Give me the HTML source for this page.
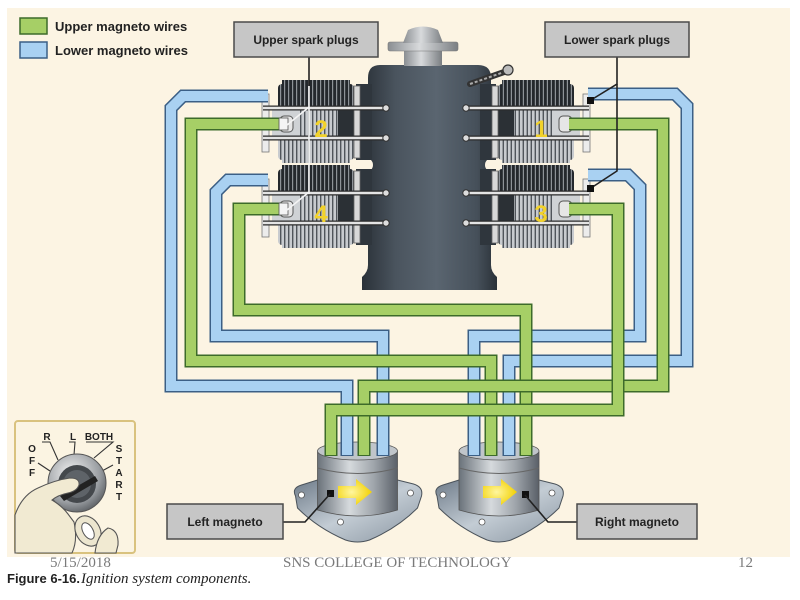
<!DOCTYPE html>
<html><head><meta charset="utf-8"><style>
html,body{margin:0;padding:0;background:#fff;}
svg{display:block;}
</style></head><body>
<svg width="800" height="600" viewBox="0 0 800 600" xmlns="http://www.w3.org/2000/svg">
<defs>
  <pattern id="finL" width="4" height="10" patternUnits="userSpaceOnUse"><rect width="4" height="10" fill="#c8cbcf"/><rect width="1.4" height="10" fill="#50555b"/></pattern>
  <pattern id="finD" width="4" height="10" patternUnits="userSpaceOnUse"><rect width="4" height="10" fill="#24282d"/><rect width="1.2" height="10" fill="#8d9298"/></pattern>
  <linearGradient id="crank" x1="0" x2="1" y1="0" y2="0">
    <stop offset="0" stop-color="#2a3138"/><stop offset="0.25" stop-color="#4a545e"/>
    <stop offset="0.55" stop-color="#5a6570"/><stop offset="0.85" stop-color="#46505a"/>
    <stop offset="1" stop-color="#2a3138"/>
  </linearGradient>
  <linearGradient id="hub" x1="0" x2="1"><stop offset="0" stop-color="#8a8e92"/><stop offset="0.45" stop-color="#d8dadc"/><stop offset="1" stop-color="#7a7e82"/></linearGradient>
  <linearGradient id="mag" x1="0" x2="1"><stop offset="0" stop-color="#6a727a"/><stop offset="0.4" stop-color="#d6dadd"/><stop offset="0.7" stop-color="#a0a6ac"/><stop offset="1" stop-color="#5a6068"/></linearGradient>
  <linearGradient id="base" x1="0" x2="1" y1="0" y2="1"><stop offset="0" stop-color="#6f7c8a"/><stop offset="0.5" stop-color="#c3ccd4"/><stop offset="1" stop-color="#8995a1"/></linearGradient>
  <radialGradient id="knob" cx="0.4" cy="0.35" r="0.7"><stop offset="0" stop-color="#f4f4f4"/><stop offset="0.7" stop-color="#9a9ea2"/><stop offset="1" stop-color="#5a5e62"/></radialGradient>
  <radialGradient id="arrowG" cx="0.4" cy="0.5" r="0.6"><stop offset="0" stop-color="#fff6a0"/><stop offset="1" stop-color="#f2d000"/></radialGradient>
  <g id="cyl">
    <rect x="356" y="2" width="16" height="76" fill="#2f363d"/>
    <rect x="282" y="-2" width="68" height="6" fill="url(#finD)"/>
    <rect x="278" y="2" width="76" height="26" rx="4" fill="url(#finD)"/>
    <rect x="278" y="52" width="76" height="26" rx="4" fill="url(#finL)"/>
    <rect x="282" y="76" width="68" height="5" fill="url(#finL)"/>
    <rect x="272" y="26" width="30" height="30" fill="#cfd2d5"/>
    <rect x="300" y="26" width="40" height="30" fill="url(#finL)"/>
    <rect x="338" y="26" width="18" height="30" fill="#2b3035"/>
    <rect x="262" y="12" width="7" height="58" fill="#ececec" stroke="#777" stroke-width="0.8"/>
    <rect x="354" y="4" width="6" height="72" fill="#d8d8d8" stroke="#666" stroke-width="0.8"/>
    <line x1="263" y1="26" x2="386" y2="26" stroke="#2a2a2a" stroke-width="5"/>
    <line x1="263" y1="26" x2="386" y2="26" stroke="#e4e4e4" stroke-width="2.6"/>
    <circle cx="386" cy="26" r="3.2" fill="#ddd" stroke="#333" stroke-width="1"/>
    <line x1="263" y1="56" x2="386" y2="56" stroke="#2a2a2a" stroke-width="5"/>
    <line x1="263" y1="56" x2="386" y2="56" stroke="#e4e4e4" stroke-width="2.6"/>
    <circle cx="386" cy="56" r="3.2" fill="#ddd" stroke="#333" stroke-width="1"/>
    <rect x="280" y="34" width="13" height="16" rx="4" fill="#e6e6e6" stroke="#555" stroke-width="1"/>
  </g>
</defs>

<!-- background -->
<rect x="7" y="8" width="783" height="549" fill="#fcf4e3"/>

<!-- legend -->
<rect x="20" y="18" width="27" height="16" fill="#a6cf66" stroke="#3d6b2a" stroke-width="1.5"/>
<rect x="20" y="42" width="27" height="16" fill="#a9d1f2" stroke="#3b5f86" stroke-width="1.5"/>
<g font-family="Liberation Sans, Arial, sans-serif" font-weight="bold" font-size="13" fill="#222">
  <text x="55" y="31">Upper magneto wires</text>
  <text x="55" y="55">Lower magneto wires</text>
</g>

<!-- engine crankcase -->
<path d="M380,65 Q368,65 368,78 L368,265 Q368,272 362,277 L362,290 L497,290 L497,277 Q491,272 491,265 L491,78 Q491,65 478,65 Z" fill="url(#crank)"/>
<circle cx="366" cy="165" r="7" fill="#fcf4e3"/>
<circle cx="492" cy="165" r="7" fill="#fcf4e3"/>
<!-- hub -->
<rect x="404" y="50" width="38" height="16" fill="url(#hub)"/>
<rect x="388" y="42" width="70" height="9" rx="2" fill="url(#hub)" stroke="#777" stroke-width="0.6"/>
<path d="M403,43 L408,30 Q423,23 438,30 L443,43 Z" fill="url(#hub)"/>
<!-- dipstick -->
<line x1="470" y1="84" x2="507" y2="71" stroke="#333" stroke-width="6" stroke-linecap="round"/>
<line x1="470" y1="84" x2="507" y2="71" stroke="#aaa" stroke-width="2" stroke-dasharray="3 2"/>
<circle cx="508" cy="70" r="5" fill="#bbb" stroke="#333" stroke-width="1.2"/>

<!-- cylinders -->
<use href="#cyl" x="0" y="82"/>
<use href="#cyl" x="0" y="167"/>
<use href="#cyl" transform="translate(852,82) scale(-1,1)"/>
<use href="#cyl" transform="translate(852,167) scale(-1,1)"/>
<g font-family="Liberation Sans, Arial, sans-serif" font-weight="bold" font-size="24" fill="#f2d22a" text-anchor="middle">
  <text x="321" y="137">2</text>
  <text x="321" y="222">4</text>
  <text x="541" y="137">1</text>
  <text x="541" y="222">3</text>
</g>

<!-- magnetos -->
<g transform="translate(357.5,0)">
  <path d="M-62,496 Q-66,488 -56,485 L-40,480 L40,480 L56,484 Q66,487 64,496 L60,508 Q40,528 12,540 Q0,544 -12,540 Q-40,528 -60,508 Z" fill="url(#base)" stroke="#4a525a" stroke-width="1"/>
  <circle cx="-56" cy="495" r="3" fill="#fff" stroke="#555" stroke-width="0.8"/>
  <circle cx="53" cy="493" r="3" fill="#fff" stroke="#555" stroke-width="0.8"/>
  <circle cx="-17" cy="522" r="3" fill="#fff" stroke="#555" stroke-width="0.8"/>
  <path d="M-40,452 L-40,510 Q0,522 40,510 L40,452 Z" fill="url(#mag)" stroke="#555" stroke-width="0.8"/>
  <path d="M-40,468 Q0,479 40,468" fill="none" stroke="#666" stroke-width="1"/>
  <ellipse cx="0" cy="451" rx="40" ry="9" fill="#c0c5ca" stroke="#555" stroke-width="0.8"/>
</g>
<g transform="translate(499,0)">
  <path d="M-62,496 Q-66,488 -56,485 L-40,480 L40,480 L56,484 Q66,487 64,496 L60,508 Q40,528 12,540 Q0,544 -12,540 Q-40,528 -60,508 Z" fill="url(#base)" stroke="#4a525a" stroke-width="1"/>
  <circle cx="-56" cy="495" r="3" fill="#fff" stroke="#555" stroke-width="0.8"/>
  <circle cx="53" cy="493" r="3" fill="#fff" stroke="#555" stroke-width="0.8"/>
  <circle cx="-17" cy="522" r="3" fill="#fff" stroke="#555" stroke-width="0.8"/>
  <path d="M-40,452 L-40,510 Q0,522 40,510 L40,452 Z" fill="url(#mag)" stroke="#555" stroke-width="0.8"/>
  <path d="M-40,468 Q0,479 40,468" fill="none" stroke="#666" stroke-width="1"/>
  <ellipse cx="0" cy="451" rx="40" ry="9" fill="#c0c5ca" stroke="#555" stroke-width="0.8"/>
</g>
<polygon points="338,486 356,486 356,479 372,492 356,505 356,498 338,498" fill="url(#arrowG)"/>
<polygon points="483,486 501,486 501,479 517,492 501,505 501,498 483,498" fill="url(#arrowG)"/>
<rect x="327" y="490" width="7" height="7" fill="#111"/>
<rect x="522" y="491" width="7" height="7" fill="#111"/>

<!-- wires: blue -->
<g fill="none" stroke-linejoin="miter">
  <g stroke="#3b5f86" stroke-width="13">
    <path d="M268,96 L183,96 L171,108 L171,386 L347,386 L347,456"/>
    <path d="M268,180 L228,180 L216,192 L216,336 L383,336 L383,456"/>
    <path d="M588,94 L675,94 L687,106 L687,361 L509,361 L509,456"/>
    <path d="M588,175 L628,175 L640,187 L640,336 L474,336 L474,456"/>
  </g>
  <g stroke="#a9d1f2" stroke-width="10">
    <path d="M268,96 L183,96 L171,108 L171,386 L347,386 L347,455"/>
    <path d="M268,180 L228,180 L216,192 L216,336 L383,336 L383,455"/>
    <path d="M588,94 L675,94 L687,106 L687,361 L509,361 L509,455"/>
    <path d="M588,175 L628,175 L640,187 L640,336 L474,336 L474,455"/>
  </g>
  <!-- greens -->
  <path d="M283,124 L191,124 L191,361 L491,361 L491,456" stroke="#3d6b2a" stroke-width="13"/>
  <path d="M283,124 L191,124 L191,361 L491,361 L491,455" stroke="#a6cf66" stroke-width="10"/>
  <path d="M283,209 L239,209 L239,310 L526,310 L526,456" stroke="#3d6b2a" stroke-width="13"/>
  <path d="M283,209 L239,209 L239,310 L526,310 L526,455" stroke="#a6cf66" stroke-width="10"/>
  <path d="M569,124 L663,124 L663,386 L364,386 L364,456" stroke="#3d6b2a" stroke-width="13"/>
  <path d="M569,124 L663,124 L663,386 L364,386 L364,455" stroke="#a6cf66" stroke-width="10"/>
  <path d="M569,209 L618,209 L618,410 L331,410 L331,456" stroke="#3d6b2a" stroke-width="13"/>
  <path d="M569,209 L618,209 L618,410 L331,410 L331,455" stroke="#a6cf66" stroke-width="10"/>
</g>
<!-- plug boots -->
<rect x="279" y="118" width="9" height="12" fill="#f4f4f4" stroke="#555" stroke-width="0.8"/>
<rect x="279" y="203" width="9" height="12" fill="#f4f4f4" stroke="#555" stroke-width="0.8"/>

<!-- leader lines -->
<line x1="309" y1="57" x2="309" y2="86" stroke="#222" stroke-width="1.6"/>
<line x1="309" y1="86" x2="309" y2="194" stroke="#f4f4f4" stroke-width="1.6"/>
<line x1="309" y1="107" x2="287" y2="125" stroke="#f4f4f4" stroke-width="1.6"/>
<line x1="309" y1="192" x2="287" y2="210" stroke="#f4f4f4" stroke-width="1.6"/>
<polyline points="617,57 617,84 591,100" fill="none" stroke="#222" stroke-width="1.6"/>
<polyline points="617,84 617,171 591,188" fill="none" stroke="#222" stroke-width="1.6"/>
<rect x="587" y="97" width="7" height="7" fill="#111"/>
<rect x="587" y="185" width="7" height="7" fill="#111"/>
<polyline points="283,522 305,522 330,494" fill="none" stroke="#222" stroke-width="1.6"/>
<polyline points="577,522 548,522 525,495" fill="none" stroke="#222" stroke-width="1.6"/>

<!-- label boxes -->
<g stroke="#4a4a4a" stroke-width="1.5" fill="#c6c6c6">
  <rect x="234" y="22" width="144" height="35"/>
  <rect x="545" y="22" width="144" height="35"/>
  <rect x="167" y="504" width="116" height="35"/>
  <rect x="577" y="504" width="120" height="35"/>
</g>
<g font-family="Liberation Sans, Arial, sans-serif" font-weight="bold" font-size="12" fill="#222" text-anchor="middle">
  <text x="306" y="44">Upper spark plugs</text>
  <text x="617" y="44">Lower spark plugs</text>
  <text x="225" y="526">Left magneto</text>
  <text x="637" y="526">Right magneto</text>
</g>

<!-- ignition switch -->
<rect x="15" y="421" width="120" height="132" rx="3" fill="#fbf4e2" stroke="#d9c27e" stroke-width="2"/>
<g font-family="Liberation Sans, Arial, sans-serif" font-weight="bold" font-size="10" fill="#222" text-anchor="middle">
  <text x="32" y="452">O</text><text x="32" y="464">F</text><text x="32" y="476">F</text>
  <text x="47" y="440">R</text><text x="73" y="440">L</text><text x="99" y="440">BOTH</text>
  <text x="119" y="452">S</text><text x="119" y="464">T</text><text x="119" y="476">A</text><text x="119" y="488">R</text><text x="119" y="500">T</text>
</g>
<g stroke="#333" stroke-width="1.1" fill="none">
  <polyline points="42,442 50,442 58,460"/>
  <polyline points="69,442 75,442 74,455"/>
  <polyline points="86,442 113,442 94,458"/>
  <line x1="38" y1="463" x2="50" y2="471"/>
  <line x1="102" y1="471" x2="113" y2="465"/>
</g>
<circle cx="77" cy="483" r="29" fill="url(#knob)" stroke="#555" stroke-width="1"/>
<circle cx="77" cy="484" r="19" fill="#44484c"/>
<circle cx="77" cy="484" r="14" fill="#5e6368"/>
<path d="M60,496 L95,476 L98,481 L64,501 Z" fill="#222"/>
<path d="M15,515 Q22,495 38,488 Q55,480 70,478 Q80,478 79,485 Q77,491 68,493 Q58,495 52,500 Q62,506 68,514 L74,522 Q78,540 72,553 L15,553 Z" fill="#f1ead2" stroke="#555" stroke-width="1.1"/>
<ellipse cx="88" cy="531" rx="12" ry="16" transform="rotate(-30 88 531)" fill="#ece6cf" stroke="#555" stroke-width="1.1"/>
<ellipse cx="88" cy="531" rx="5" ry="9" transform="rotate(-30 88 531)" fill="#fff" stroke="#555" stroke-width="1"/>
<path d="M95,553 Q97,535 108,528 Q119,530 118,545 L116,553 Z" fill="#f1ead2" stroke="#555" stroke-width="1.1"/>

<!-- footer -->
<g font-family="Liberation Serif, 'Times New Roman', serif" font-size="15" fill="#7a7a7a">
  <text x="50" y="567">5/15/2018</text>
  <text x="283" y="567">SNS COLLEGE OF TECHNOLOGY</text>
  <text x="738" y="567">12</text>
</g>
<text x="7" y="583" font-family="Liberation Sans, Arial, sans-serif" font-weight="bold" font-size="13" fill="#222">Figure 6-16.</text>
<text x="81" y="583" font-family="Liberation Serif, 'Times New Roman', serif" font-style="italic" font-size="15" fill="#222">Ignition system components.</text>
</svg>
</body></html>
